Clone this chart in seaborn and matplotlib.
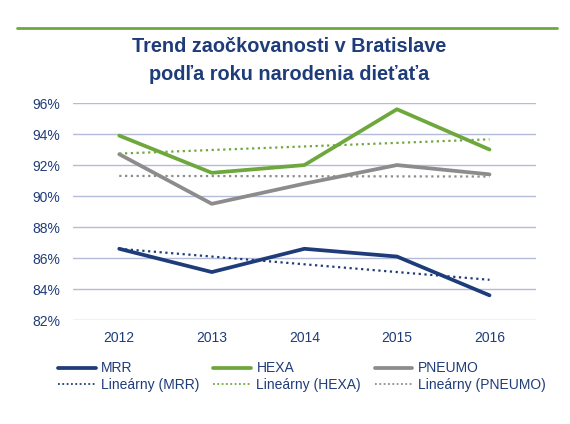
import matplotlib
matplotlib.use("Agg")
import matplotlib.pyplot as plt
from matplotlib.lines import Line2D
import seaborn as sns
import pandas as pd
import numpy as np

years = ["2012", "2013", "2014", "2015", "2016"]
mrr = [86.6, 85.1, 86.6, 86.1, 83.6]
hexa = [93.9, 91.5, 92.0, 95.6, 93.0]
pneumo = [92.7, 89.5, 90.8, 92.0, 91.4]
series_names = ["MRR", "HEXA", "PNEUMO"]
trend_prefix = "Lineárny"

NAVY = "#1F3C7A"
GREEN = "#6EA83D"
GRAY = "#8C8C8C"
colors = {"MRR": NAVY, "HEXA": GREEN, "PNEUMO": GRAY}

sns.set_theme(style="white")
plt.rcParams["font.family"] = ["Liberation Sans", "DejaVu Sans"]

rows = []
for name, vals in zip(series_names, [mrr, hexa, pneumo]):
    for i, (y, v) in enumerate(zip(years, vals)):
        rows.append({"idx": i, "year": y, "value": v, "series": name})
df = pd.DataFrame(rows)

fig = plt.figure(figsize=(5.70, 4.24), dpi=100)
ax = fig.add_axes([0.128, 0.245, 0.812, 0.512])

sns.lineplot(data=df, x="idx", y="value", hue="series", palette=colors,
             hue_order=series_names, linewidth=2.7, ax=ax, legend=False, zorder=3)
for name in series_names:
    sub = df[df.series == name]
    sns.regplot(data=sub, x="idx", y="value", scatter=False, ci=None, truncate=True,
                ax=ax, line_kws=dict(color=colors[name], linestyle=(0, (1, 1.6)),
                                     linewidth=1.6, zorder=2))

ax.set_xlim(-0.5, 4.5)
ax.set_ylim(82, 96)
ax.set_xticks(range(len(years)))
ax.set_xticklabels(years)
yt = np.arange(82, 97, 2)
ax.set_yticks(yt)
ax.set_yticklabels([f"{v:d}%" for v in yt])
ax.set_xlabel("")
ax.set_ylabel("")
ax.grid(axis="y", color="#B4BCDA", linewidth=1.0, zorder=0)
ax.grid(axis="x", visible=False)
for s in ax.spines.values():
    s.set_visible(False)
ax.tick_params(axis="both", length=0, labelsize=10, labelcolor=NAVY)
ax.tick_params(axis="x", pad=8)
ax.tick_params(axis="y", pad=9)

fig.text(0.508, 0.858, "Trend zaočkovanosti v Bratislave\npodľa roku narodenia dieťaťa",
         ha="center", va="center", fontsize=14.3, fontweight="bold", color=NAVY,
         linespacing=1.6)
fig.add_artist(Line2D([17/570, 557/570], [1-27.5/424, 1-27.5/424], color=GREEN,
                      linewidth=2.0, transform=fig.transFigure))

handles = []
labels = []
for name in series_names:
    handles.append(Line2D([], [], color=colors[name], linewidth=2.7))
    labels.append(name)
    handles.append(Line2D([], [], color=colors[name], linewidth=1.3, linestyle=(0, (1, 1.4))))
    labels.append(f"{trend_prefix} ({name})")
leg = fig.legend(handles, labels, ncol=3, loc="upper left",
                 bbox_to_anchor=(0.08, 0.177), frameon=False, fontsize=10,
                 handlelength=2.7, handletextpad=0.4, columnspacing=1.0,
                 labelspacing=0.2)
for t in leg.get_texts():
    t.set_color(NAVY)

fig.savefig("out.png", dpi=100, facecolor="white")
